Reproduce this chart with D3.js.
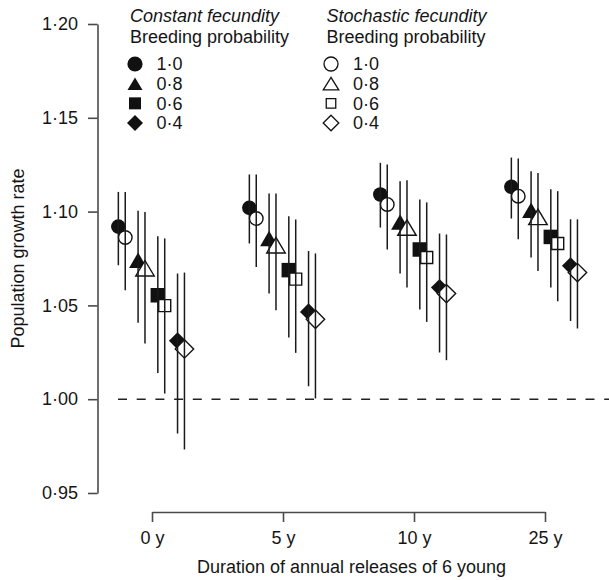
<!DOCTYPE html>
<html>
<head>
<meta charset="utf-8">
<script src="https://cdn.jsdelivr.net/npm/d3@7"></script>
<style>
  html, body { margin: 0; padding: 0; background: #fff; }
  svg { display: block; font-family: "Liberation Sans", Arial, Helvetica, sans-serif; }
</style>
</head>
<body>
<svg id="chart" width="609" height="580"></svg>
<script>
// ---- data ----
const groups = ["0 y", "5 y", "10 y", "25 y"];
const breedProb = ["1·0", "0·8", "0·6", "0·4"];
const fecundity = ["Constant fecundity", "Stochastic fecundity"];
const yTicks = [0.95, 1.00, 1.05, 1.10, 1.15, 1.20];

const constMean = [[1.092, 1.0741, 1.0554, 1.0311], [1.102, 1.0857, 1.0688, 1.0465], [1.1091, 1.0945, 1.0798, 1.0595], [1.1132, 1.1007, 1.0865, 1.0711]];
const constLow  = [[1.0714, 1.0407, 1.014, 0.9817], [1.083, 1.0563, 1.0329, 1.0069], [1.0915, 1.067, 1.0478, 1.0249], [1.0963, 1.0755, 1.0595, 1.0417]];
const constHigh = [[1.1105, 1.1004, 1.0869, 1.067], [1.1198, 1.1096, 1.0975, 1.079], [1.126, 1.1162, 1.1065, 1.0883], [1.1288, 1.1215, 1.1119, 1.0959]];
const stochMean = [[1.0862, 1.0698, 1.0499, 1.0268], [1.0963, 1.0821, 1.064, 1.0426], [1.1038, 1.0915, 1.0755, 1.0563], [1.1082, 1.0972, 1.083, 1.0675]];
const stochLow  = [[1.0581, 1.0297, 1.003, 0.9732], [1.0705, 1.0474, 1.0247, 1.0004], [1.0798, 1.0595, 1.0412, 1.0208], [1.0853, 1.0684, 1.0522, 1.0377]];
const stochHigh = [[1.1105, 1.0998, 1.0857, 1.0675], [1.1198, 1.1096, 1.0958, 1.0777], [1.1251, 1.1167, 1.1049, 1.0878], [1.1283, 1.1206, 1.1109, 1.0959]];
const refLine = 1.00;

// ---- build records ----
const records = [];
groups.forEach((g, gi) => {
  breedProb.forEach((p, pi) => {
    records.push({g, p, f: fecundity[0], mean: constMean[gi][pi], lo: constLow[gi][pi], hi: constHigh[gi][pi], open: false, k: pi});
    records.push({g, p, f: fecundity[1], mean: stochMean[gi][pi], lo: stochLow[gi][pi], hi: stochHigh[gi][pi], open: true, k: pi});
  });
});

// ---- shapes ----
function circlePath(r) { return `M${r},0A${r},${r} 0 1,1 ${-r},0A${r},${r} 0 1,1 ${r},0Z`; }
function triPath(w, h) { return `M0,${-h/2}L${w/2},${h/2}L${-w/2},${h/2}Z`; }
function sqPath(s) { return `M${-s/2},${-s/2}h${s}v${s}h${-s}Z`; }
function diaPath(a) { return `M0,${-a}L${a},0L0,${a}L${-a},0Z`; }

function plotShape(k, open) {
  if (k === 0) return open ? circlePath(6.8) : circlePath(7.3);
  if (k === 1) return open ? triPath(18.5, 15.5) : triPath(18, 15.5);
  if (k === 2) return open ? sqPath(12) : sqPath(14.5);
  return open ? diaPath(9.2) : diaPath(8.6);
}
function legendShape(k, open) {
  if (k === 0) return open ? circlePath(7) : circlePath(7.6);
  if (k === 1) return open ? triPath(15.5, 12.5) : triPath(15, 12.5);
  if (k === 2) return open ? sqPath(9.5) : sqPath(12);
  return open ? diaPath(7.8) : diaPath(8);
}

// ---- scales ----
const svg = d3.select("#chart");
const y = d3.scaleLinear().domain([0.95, 1.20]).range([493, 24]);
const x = d3.scalePoint().domain(groups).range([152, 545]);
const xInner = d3.scalePoint().domain(breedProb).range([-30.2, 29.0]);
const xFec = d3.scalePoint().domain(fecundity).range([-3.45, 3.45]);
const px = d => x(d.g) + xInner(d.p) + xFec(d.f);

const axisColor = "#4a4a4a";
const textColor = "#151515";
const fs = 18;

// ---- y axis ----
const fmt = v => d3.format(".2f")(v).replace(".", "·");
const yAxis = svg.append("g")
  .attr("transform", "translate(97.5,0)")
  .call(d3.axisLeft(y).tickValues(yTicks).tickFormat(fmt).tickSize(9.5).tickSizeOuter(0).tickPadding(10));
yAxis.select(".domain").attr("stroke", axisColor).attr("stroke-width", 1.6);
yAxis.selectAll(".tick line").attr("stroke", axisColor).attr("stroke-width", 1.6);
yAxis.selectAll(".tick text").attr("fill", textColor).style("font-size", fs + "px").attr("font-family", null);

// ---- x axis ----
const xAxis = svg.append("g")
  .attr("transform", "translate(0,512)")
  .call(d3.axisBottom(x).tickSize(10).tickSizeOuter(0).tickPadding(9));
xAxis.select(".domain").attr("stroke", axisColor).attr("stroke-width", 1.6);
xAxis.selectAll(".tick line").attr("stroke", axisColor).attr("stroke-width", 1.6);
xAxis.selectAll(".tick text").attr("fill", textColor).style("font-size", fs + "px").attr("font-family", null);

// axis titles
svg.append("text")
  .attr("transform", `translate(24,${(24 + 493) / 2}) rotate(-90)`)
  .attr("text-anchor", "middle")
  .attr("fill", textColor)
  .style("font-size", fs + "px")
  .text("Population growth rate");
svg.append("text")
  .attr("x", (152 + 545) / 2 + 3)
  .attr("y", 573)
  .attr("text-anchor", "middle")
  .attr("fill", textColor)
  .style("font-size", fs + "px")
  .text("Duration of annual releases of 6 young");

// ---- reference dashed line ----
svg.append("line")
  .attr("x1", 118).attr("x2", 609)
  .attr("y1", y(refLine)).attr("y2", y(refLine))
  .attr("stroke", "#222").attr("stroke-width", 1.4)
  .attr("stroke-dasharray", "9,9.7");

// ---- markers ----
const plot = svg.append("g");
groups.forEach(g => {
  const recs = records.filter(r => r.g === g);
  recs.forEach(r => {
    plot.append("path")
      .attr("d", plotShape(r.k, r.open))
      .attr("transform", `translate(${px(r)},${y(r.mean)})`)
      .attr("fill", r.open ? "#fff" : "#111")
      .attr("stroke", "#111")
      .attr("stroke-width", r.open ? 1.4 : 0);
  });
});
// error bars on top
plot.selectAll("line.err").data(records).join("line")
  .attr("class", "err")
  .attr("x1", d => px(d)).attr("x2", d => px(d))
  .attr("y1", d => y(d.hi)).attr("y2", d => y(d.lo))
  .attr("stroke", "#1a1a1a").attr("stroke-width", 1.5);

// ---- legend ----
const legRow = d3.scalePoint().domain(breedProb).range([64, 123]);
const legends = [
  {title: fecundity[0], x: 130, mx: 135, tx: 156.5, open: false},
  {title: fecundity[1], x: 326.5, mx: 331, tx: 353, open: true}
];
legends.forEach(L => {
  const lg = svg.append("g");
  lg.append("text").attr("x", L.x).attr("y", 22)
    .attr("fill", textColor).style("font-size", fs + "px").style("font-style", "italic")
    .text(L.title);
  lg.append("text").attr("x", L.x).attr("y", 42.5)
    .attr("fill", textColor).style("font-size", fs + "px")
    .text("Breeding probability");
  breedProb.forEach((p, k) => {
    lg.append("path")
      .attr("d", legendShape(k, L.open))
      .attr("transform", `translate(${L.mx},${legRow(p)})`)
      .attr("fill", L.open ? "#fff" : "#111")
      .attr("stroke", "#111")
      .attr("stroke-width", L.open ? 1.3 : 0);
    lg.append("text").attr("x", L.tx).attr("y", legRow(p) + 6.4)
      .attr("fill", textColor).style("font-size", fs + "px")
      .text(p);
  });
});
</script>
</body>
</html>
